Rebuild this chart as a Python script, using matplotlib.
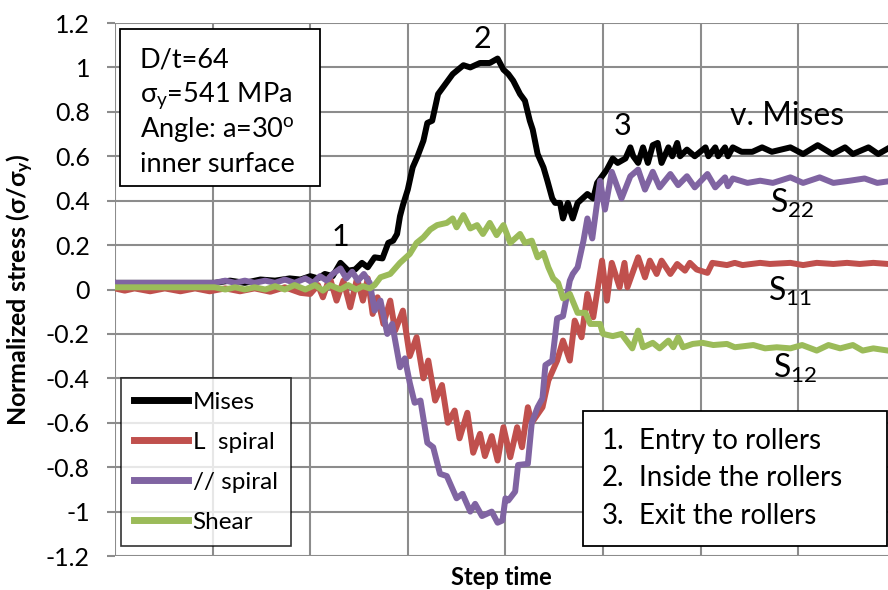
import matplotlib
matplotlib.use("Agg")
import matplotlib.pyplot as plt
from matplotlib.patches import Rectangle

plt.rcParams["font.family"] = ["Lato", "DejaVu Sans"]
plt.rcParams["mathtext.fontset"] = "custom"
plt.rcParams["mathtext.rm"] = "Lato"
plt.rcParams["mathtext.it"] = "Lato:italic"
plt.rcParams["mathtext.bf"] = "Lato:bold"

# step time in grid units (8 gridlines across), normalized stress sigma/sigma_y
mises_x = [0.00, 1.02, 1.18, 1.33, 1.49, 1.64, 1.79, 1.90, 2.00, 2.08, 2.15, 2.23, 2.31, 2.39,
           2.46, 2.53, 2.59, 2.66, 2.74, 2.80, 2.85, 2.89, 2.92, 2.95, 3.00, 3.05, 3.10, 3.16,
           3.20, 3.25, 3.31, 3.36, 3.46, 3.57, 3.64, 3.74, 3.84, 3.92, 3.98, 4.03, 4.08, 4.15,
           4.20, 4.25, 4.28, 4.33, 4.39, 4.43, 4.48, 4.51, 4.56, 4.59, 4.64, 4.69, 4.74, 4.84,
           4.90, 4.94, 5.04, 5.10, 5.15, 5.23, 5.28, 5.31, 5.36, 5.41, 5.46, 5.51, 5.56, 5.60,
           5.67, 5.71, 5.76, 5.79, 5.86, 5.94, 6.05, 6.08, 6.15, 6.18, 6.25, 6.28, 6.33, 6.42,
           6.53, 6.63, 6.73, 6.92, 7.05, 7.20, 7.35, 7.48, 7.56, 7.72, 7.82, 7.92]
mises_y = [0.03, 0.03, 0.04, 0.03, 0.045, 0.04, 0.05, 0.045, 0.06, 0.05, 0.07, 0.06, 0.12, 0.085,
           0.09, 0.12, 0.10, 0.145, 0.14, 0.21, 0.22, 0.25, 0.33, 0.38, 0.45, 0.55, 0.60, 0.67,
           0.75, 0.76, 0.88, 0.91, 0.97, 1.01, 1.00, 1.02, 1.02, 1.04, 0.99, 0.97, 0.94, 0.88,
           0.85, 0.76, 0.72, 0.61, 0.55, 0.49, 0.41, 0.39, 0.39, 0.32, 0.39, 0.32, 0.39, 0.43,
           0.41, 0.48, 0.54, 0.59, 0.57, 0.59, 0.64, 0.60, 0.57, 0.64, 0.57, 0.65, 0.66, 0.57,
           0.64, 0.60, 0.66, 0.60, 0.63, 0.60, 0.64, 0.60, 0.64, 0.60, 0.64, 0.60, 0.64, 0.62,
           0.62, 0.64, 0.62, 0.64, 0.61, 0.65, 0.61, 0.64, 0.61, 0.64, 0.61, 0.635]

lspiral_x = [0.00, 0.10, 0.20, 0.36, 0.51, 0.67, 0.82, 0.97, 1.13, 1.28, 1.43, 1.59, 1.74, 1.90,
             2.00, 2.08, 2.13, 2.20, 2.27, 2.34, 2.41, 2.48, 2.54, 2.59, 2.64, 2.69, 2.75, 2.82,
             2.87, 2.95, 3.02, 3.09, 3.16, 3.21, 3.28, 3.35, 3.41, 3.48, 3.53, 3.61, 3.67, 3.74,
             3.79, 3.86, 3.92, 3.98, 4.05, 4.12, 4.17, 4.23, 4.27, 4.38, 4.44, 4.53, 4.59, 4.66,
             4.71, 4.78, 4.84, 4.90, 4.99, 5.04, 5.09, 5.17, 5.22, 5.25, 5.36, 5.43, 5.48, 5.55,
             5.60, 5.69, 5.76, 5.84, 5.89, 5.96, 6.07, 6.12, 6.27, 6.35, 6.43, 6.61, 6.71, 6.92,
             7.05, 7.19, 7.36, 7.50, 7.63, 7.77, 7.92]
lspiral_y = [0.005, -0.005, 0.005, -0.008, 0.005, -0.008, 0.005, -0.008, 0.005, -0.008, 0.005,
             -0.01, 0.01, -0.015, -0.02, 0.02, -0.035, 0.055, -0.05, 0.04, -0.08, 0.05, -0.05,
             0.05, -0.11, -0.035, -0.155, -0.05, -0.185, -0.095, -0.30, -0.215, -0.40, -0.32,
             -0.50, -0.43, -0.60, -0.545, -0.67, -0.555, -0.735, -0.65, -0.75, -0.66, -0.77,
             -0.62, -0.755, -0.62, -0.71, -0.53, -0.60, -0.53, -0.41, -0.32, -0.23, -0.32, -0.14,
             -0.215, -0.02, -0.125, 0.13, -0.05, 0.12, 0.01, 0.12, 0.01, 0.145, 0.055, 0.13, 0.07,
             0.13, 0.07, 0.115, 0.085, 0.12, 0.09, 0.075, 0.12, 0.11, 0.12, 0.11, 0.12, 0.115,
             0.12, 0.11, 0.12, 0.115, 0.12, 0.115, 0.12, 0.115]

pspiral_x = [0.00, 1.02, 1.13, 1.23, 1.33, 1.43, 1.54, 1.64, 1.74, 1.84, 1.95, 2.03, 2.10, 2.17,
             2.23, 2.31, 2.37, 2.43, 2.49, 2.55, 2.61, 2.66, 2.72, 2.79, 2.84, 2.92, 2.97, 3.02,
             3.07, 3.13, 3.20, 3.26, 3.33, 3.40, 3.50, 3.56, 3.64, 3.69, 3.76, 3.86, 3.92, 3.97,
             4.00, 4.03, 4.10, 4.13, 4.23, 4.27, 4.33, 4.38, 4.41, 4.48, 4.53, 4.59, 4.66, 4.69,
             4.74, 4.80, 4.84, 4.89, 4.93, 4.97, 5.02, 5.09, 5.19, 5.28, 5.36, 5.43, 5.51, 5.58,
             5.69, 5.77, 5.86, 5.94, 6.07, 6.15, 6.25, 6.28, 6.33, 6.48, 6.61, 6.74, 6.92, 7.05,
             7.22, 7.36, 7.53, 7.68, 7.81, 7.92]
pspiral_y = [0.03, 0.03, 0.04, 0.03, 0.04, 0.03, 0.04, 0.03, 0.045, 0.03, 0.05, 0.03, 0.06, 0.04,
             0.07, 0.095, 0.05, 0.08, 0.04, 0.07, 0.03, -0.095, -0.05, -0.20, -0.155, -0.35, -0.31,
             -0.42, -0.51, -0.50, -0.69, -0.71, -0.83, -0.84, -0.94, -0.92, -1.00, -0.965, -1.02,
             -1.00, -1.05, -1.04, -0.94, -0.95, -0.91, -0.79, -0.785, -0.60, -0.53, -0.49, -0.34,
             -0.32, -0.13, -0.12, 0.04, 0.07, 0.10, 0.22, 0.32, 0.23, 0.36, 0.49, 0.36, 0.53, 0.41,
             0.51, 0.54, 0.45, 0.53, 0.46, 0.52, 0.47, 0.51, 0.46, 0.52, 0.46, 0.505, 0.465, 0.50,
             0.48, 0.49, 0.48, 0.505, 0.48, 0.505, 0.48, 0.49, 0.50, 0.48, 0.487]

shear_x = [0.00, 1.02, 1.13, 1.23, 1.33, 1.43, 1.54, 1.64, 1.74, 1.84, 1.95, 2.05, 2.13, 2.20,
           2.31, 2.39, 2.47, 2.54, 2.61, 2.66, 2.72, 2.82, 2.92, 3.02, 3.09, 3.16, 3.23, 3.30,
           3.40, 3.46, 3.50, 3.57, 3.64, 3.71, 3.77, 3.84, 3.91, 3.98, 4.05, 4.15, 4.20, 4.27,
           4.33, 4.39, 4.44, 4.49, 4.54, 4.59, 4.66, 4.74, 4.82, 4.87, 4.97, 5.00, 5.10, 5.19,
           5.30, 5.36, 5.41, 5.51, 5.58, 5.67, 5.72, 5.77, 5.82, 5.92, 6.02, 6.13, 6.27, 6.35,
           6.54, 6.66, 6.78, 6.92, 7.04, 7.19, 7.31, 7.43, 7.56, 7.66, 7.77, 7.92]
shear_y = [0.01, 0.01, 0.0, 0.01, 0.0, 0.01, 0.0, 0.015, 0.0, 0.02, 0.0, 0.02, -0.005, 0.02,
           0.0, 0.02, 0.0, 0.015, 0.005, 0.02, 0.055, 0.07, 0.12, 0.16, 0.21, 0.235, 0.27, 0.29,
           0.30, 0.32, 0.28, 0.335, 0.275, 0.29, 0.25, 0.30, 0.245, 0.29, 0.21, 0.25, 0.21, 0.22,
           0.145, 0.165, 0.10, 0.05, 0.03, -0.04, -0.02, -0.105, -0.105, -0.155, -0.155, -0.20,
           -0.21, -0.20, -0.265, -0.185, -0.26, -0.24, -0.265, -0.23, -0.26, -0.215, -0.26,
           -0.245, -0.24, -0.25, -0.245, -0.26, -0.25, -0.265, -0.26, -0.265, -0.25, -0.275,
           -0.25, -0.265, -0.25, -0.275, -0.265, -0.275]

y_ticks = [-1.2, -1.0, -0.8, -0.6, -0.4, -0.2, 0.0, 0.2, 0.4, 0.6, 0.8, 1.0, 1.2]
y_tick_labels = ["-1.2", "-1", "-0.8", "-0.6", "-0.4", "-0.2", "0", "0.2", "0.4", "0.6", "0.8", "1", "1.2"]

info_lines = ["D/t=64", r"σ$_\mathrm{y}$=541 MPa", r"Angle: a=30$^\mathrm{o}$", "inner surface"]
note_nums = ["1.", "2.", "3."]
note_texts = ["Entry to rollers", "Inside the rollers", "Exit the rollers"]

fig = plt.figure(figsize=(8.88, 5.90), dpi=100)
ax = fig.add_axes([0.1295, 0.0576, 0.8705, 0.9034])

grid_color = "#8c8c8c"
lw = 4.3
ax.plot(mises_x, mises_y, color="black", lw=lw, label="Mises", zorder=3)
ax.plot(lspiral_x, lspiral_y, color="#C0504D", lw=lw, label="L  spiral", zorder=3)
ax.plot(pspiral_x, pspiral_y, color="#8064A2", lw=lw, label="// spiral", zorder=3)
ax.plot(shear_x, shear_y, color="#9BBB59", lw=lw, label="Shear", zorder=3)

ax.set_xlim(0, 7.92)
ax.set_ylim(-1.2, 1.2)
ax.set_xticks(range(0, 8))
ax.set_xticklabels([])
ax.set_yticks(y_ticks)
ax.set_yticklabels(y_tick_labels, fontsize=18)
ax.tick_params(axis="x", length=0)
ax.tick_params(axis="y", length=6, width=1.5, color=grid_color, pad=12)
ax.grid(True, color=grid_color, lw=1.5)
ax.set_axisbelow(True)
for s in ax.spines.values():
    s.set_visible(False)

ax.set_xlabel("Step time", fontsize=17, fontweight="bold", labelpad=4)
ax.set_ylabel(r"Normalized stress (σ/σ$_\mathbf{y}$)", fontsize=18, fontweight="bold", labelpad=7)

leg = ax.legend(loc="lower left", bbox_to_anchor=(0.0078, 0.019), fontsize=17.5, frameon=True,
                fancybox=False, edgecolor="black", handlelength=2.2, handletextpad=0.2,
                labelspacing=0.78, borderpad=0.55, borderaxespad=0)
leg.get_frame().set_linewidth(1.2)
for h in leg.legend_handles:
    h.set_linewidth(5)

# boxes
ax.add_patch(Rectangle((0.0065, 0.694), 0.2585, 0.295, transform=ax.transAxes,
                       fc="white", ec="black", lw=1.3, zorder=5))
ax.add_patch(Rectangle((0.605, 0.019), 0.3937, 0.253, transform=ax.transAxes,
                       fc="white", ec="black", lw=1.3, zorder=5))

info_y = [1.0, 0.847, 0.685, 0.527]
for txt, yy in zip(info_lines, info_y):
    ax.text(0.256, yy, txt, fontsize=19.5, ha="left", va="baseline", zorder=6)

note_y = [-0.717, -0.883, -1.055]
for num, txt, yy in zip(note_nums, note_texts, note_y):
    ax.text(4.99, yy, num, fontsize=20, ha="left", va="baseline", zorder=6)
    ax.text(5.37, yy, txt, fontsize=20, ha="left", va="baseline", zorder=6)

ax.text(2.31, 0.198, "1", fontsize=22, ha="center", va="baseline")
ax.text(3.76, 1.086, "2", fontsize=22, ha="center", va="baseline")
ax.text(5.20, 0.694, "3", fontsize=22, ha="center", va="baseline")
ax.text(6.30, 0.74, "v. Mises", fontsize=23, ha="left", va="baseline")
ax.text(6.71, 0.343, "S$_{22}$", fontsize=23, ha="left", va="baseline")
ax.text(6.69, -0.05, "S$_{11}$", fontsize=23, ha="left", va="baseline")
ax.text(6.74, -0.397, "S$_{12}$", fontsize=23, ha="left", va="baseline")

fig.savefig("out.png", dpi=100)
